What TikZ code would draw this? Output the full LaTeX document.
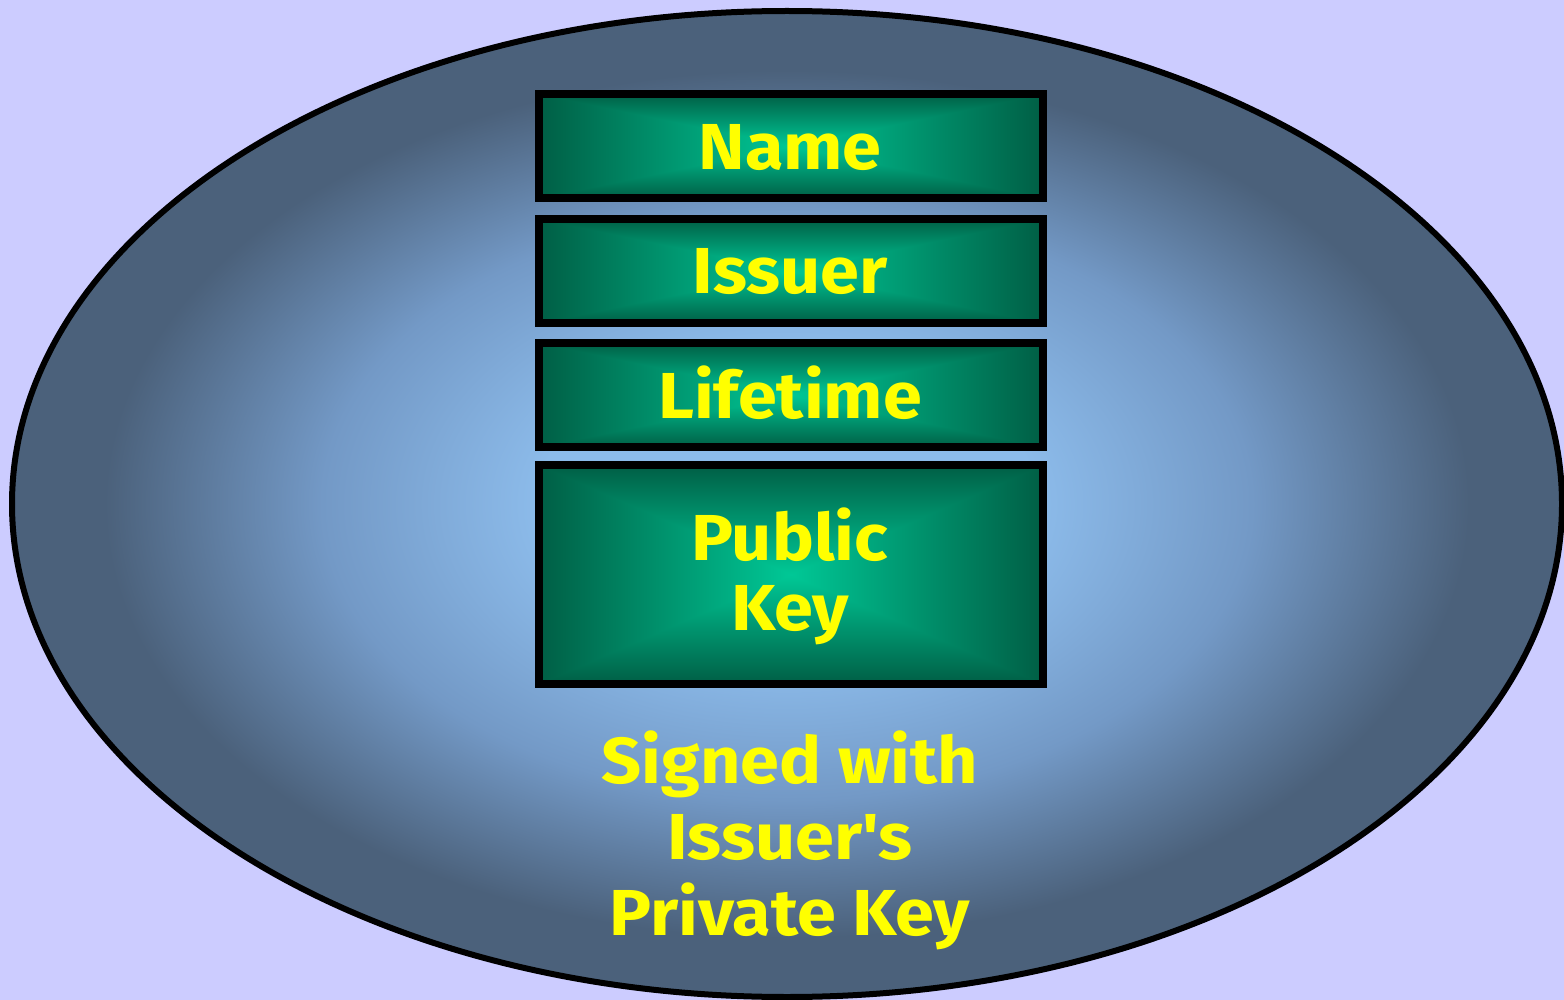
\documentclass[tikz,border=0pt]{standalone}
\usepackage{fontspec}
\newfontfamily\cfont{Fira Sans}[FakeStretch=1.08]
\definecolor{bgc}{HTML}{CCCCFF}
\definecolor{ellin}{HTML}{8CBBEA}
\definecolor{ellmid}{HTML}{7399C6}
\definecolor{ellout}{HTML}{4B617B}
\definecolor{txt}{HTML}{FFFF00}
\pgfdeclareradialshading{ellshade}{\pgfpoint{0bp}{0bp}}{%
  color(0bp)=(ellin); color(8bp)=(ellin); color(15bp)=(ellmid); color(22bp)=(ellout); color(25bp)=(ellout); color(50bp)=(ellout)}
\pgfdeclarefunctionalshading{boxshade}{\pgfpoint{-50bp}{-50bp}}{\pgfpoint{50bp}{50bp}}{}{%
  abs exch abs 2 copy lt {exch} if pop
  25 div dup 1 gt {pop 1} if
  dup 0.414 mul 0.784 exch sub exch 0.318 mul 0.588 exch sub
  0 3 1 roll}
\tikzset{
  fieldbox/.style={line width=8pt, draw=black},
  lbl/.style={text=txt, font=\cfont\bfseries\fontsize{65}{72}\selectfont, inner sep=0pt, anchor=base},
}
\begin{document}
\begin{tikzpicture}[x=1pt,y=-1pt]
\fill[bgc] (0,0) rectangle (1564,1000);
\useasboundingbox (0,0) rectangle (1564,1000);
\shade[shading=ellshade] (787,504) ellipse [x radius=775, y radius=493];
\draw[line width=6pt] (787,504) ellipse [x radius=775, y radius=493];
\shade[shading=boxshade] (538.5,94) rectangle (1043,198);
\draw[fieldbox] (538.5,94) rectangle (1043,198);
\shade[shading=boxshade] (538.5,219) rectangle (1043,323);
\draw[fieldbox] (538.5,219) rectangle (1043,323);
\shade[shading=boxshade] (538.5,343) rectangle (1043,447);
\draw[fieldbox] (538.5,343) rectangle (1043,447);
\shade[shading=boxshade] (538.5,465) rectangle (1043,684);
\draw[fieldbox] (538.5,465) rectangle (1043,684);
\node[lbl] (name) at (790,170) {Name};
\node[lbl] (issuer) at (790,294) {Issuer};
\node[lbl] (life) at (790,418) {Lifetime};
\node[lbl] (pub) at (790,560) {Public};
\node[lbl] (key) at (790,630) {Key};
\node[lbl] (s1) at (790,783) {Signed with};
\node[lbl] (s2) at (790,859) {Issuer's};
\node[lbl] (s3) at (790,935) {Private Key};
\end{tikzpicture}
\end{document}
